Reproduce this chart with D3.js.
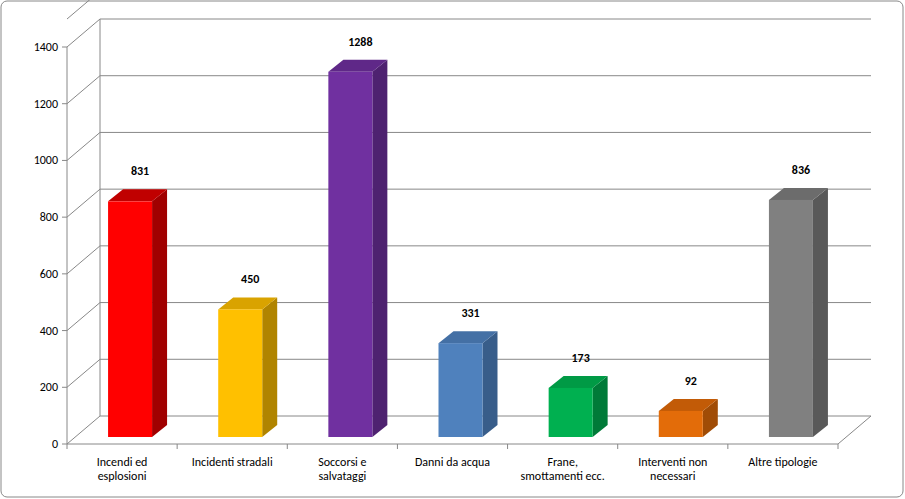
<!DOCTYPE html><html><head><meta charset="utf-8"><script src="https://cdn.jsdelivr.net/npm/d3@7"></script>
<style>body{margin:0;background:#fff}</style></head><body><svg id="c" width="905" height="499"></svg><script>
const categories=[["Incendi ed","esplosioni"],["Incidenti stradali"],["Soccorsi e","salvataggi"],["Danni da acqua"],["Frane,","smottamenti ecc."],["Interventi non","necessari"],["Altre tipologie"]];
const values=[831,450,1288,331,173,92,836];
const ticks=[0,200,400,600,800,1000,1200,1400];
const fronts=["#ff0000","#ffc000","#7030a0","#4f81bd","#00b050","#e36c09","#808080"];
const sides=["#a00000","#b08400","#4e2270","#385d8a","#007a38","#a04c06","#595959"];
const tops=["#c00000","#d9a300","#5f2888","#4470a5","#009a45","#c25b07","#6c6c6c"];
const svg=d3.select("#c");
svg.append("rect").attr("x",1).attr("y",1).attr("width",902).attr("height",496).attr("rx",6).attr("fill","#fff").attr("stroke","#888");
const dx=33,dy=-28;
const y=d3.scaleLinear().domain([0,1400]).range([444,47]);
const x=d3.scaleBand().domain(d3.range(7)).range([67,838]);
const g=svg.append("g");
// walls
g.append("line").attr("x1",67).attr("x2",67).attr("y1",444).attr("y2",47).attr("stroke","#888");
g.append("line").attr("x1",67+dx).attr("x2",67+dx).attr("y1",444+dy).attr("y2",47+dy-28*0).attr("stroke","#888");
ticks.forEach(t=>{const yy=y(t);
 g.append("polyline").attr("points",`67,${yy} ${67+dx},${yy+dy} ${838+dx},${yy+dy}`).attr("fill","none").attr("stroke","#888");
 g.append("line").attr("x1",62).attr("x2",67).attr("y1",yy).attr("y2",yy).attr("stroke","#888");
 g.append("text").attr("x",58).attr("y",yy+4).attr("text-anchor","end").attr("font-family","Calibri,Carlito,'Liberation Sans',sans-serif").attr("font-size",12).text(t);});
g.append("polyline").attr("points",`67,${y(1400)-28} ${67+dx},${y(1400)+dy-28} ${838+dx},${y(1400)+dy-28}`).attr("fill","none").attr("stroke","#888");
g.append("line").attr("x1",838).attr("x2",838+dx).attr("y1",444).attr("y2",444+dy).attr("stroke","#888");
g.append("line").attr("x1",67).attr("x2",838).attr("y1",444).attr("y2",444).attr("stroke","#888");
d3.range(8).forEach(i=>{const xx=67+i*x.step();g.append("line").attr("x1",xx).attr("x2",xx).attr("y1",444).attr("y2",449).attr("stroke","#888");});
// bars
const ox=8,oy=-7,bw=44,bdx=15,bdy=-12,k=(444-y(1))*1;
values.forEach((v,i)=>{
 const x0=x(i)+x.bandwidth()/2-bw/2+ox, yb=444+oy, yt=yb-(444-y(v));
 g.append("polygon").attr("points",`${x0+bw},${yb} ${x0+bw+bdx},${yb+bdy} ${x0+bw+bdx},${yt+bdy} ${x0+bw},${yt}`).attr("fill",sides[i]);
 g.append("polygon").attr("points",`${x0},${yt} ${x0+bdx},${yt+bdy} ${x0+bw+bdx},${yt+bdy} ${x0+bw},${yt}`).attr("fill",tops[i]);
 g.append("rect").attr("x",x0).attr("y",yt).attr("width",bw).attr("height",yb-yt).attr("fill",fronts[i]);
 g.append("text").attr("x",x0+bw/2+10).attr("y",yt+bdy-14).attr("text-anchor","middle").attr("font-family","Calibri,Carlito,'Liberation Sans',sans-serif").attr("font-size",12).attr("font-weight","bold").text(v);
 const t=g.append("text").attr("x",x(i)+x.bandwidth()/2).attr("y",466).attr("text-anchor","middle").attr("font-family","Calibri,Carlito,'Liberation Sans',sans-serif").attr("font-size",12);
 categories[i].forEach((l,j)=>t.append("tspan").attr("x",x(i)+x.bandwidth()/2).attr("dy",j?14:0).text(l));
});
</script></body></html>
